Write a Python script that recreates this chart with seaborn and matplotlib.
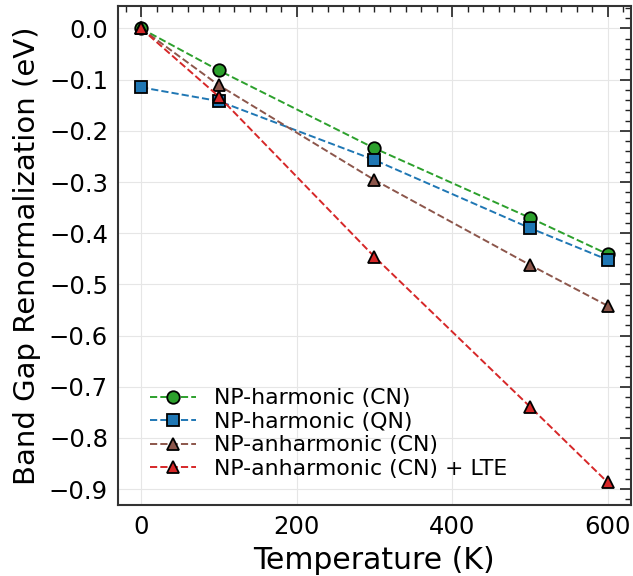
import matplotlib
matplotlib.use("Agg")
import matplotlib.pyplot as plt
from matplotlib.ticker import MultipleLocator
import seaborn as sns
import pandas as pd

temperature = [0, 100, 300, 500, 600]
np_harmonic_cn = [0.0, -0.082, -0.234, -0.370, -0.441]
np_harmonic_qn = [-0.115, -0.142, -0.257, -0.390, -0.452]
np_anharmonic_cn = [0.0, -0.111, -0.296, -0.462, -0.542]
np_anharmonic_cn_lte = [0.0, -0.133, -0.446, -0.739, -0.887]

series = [
    ("NP-harmonic (CN)", np_harmonic_cn, "#2ca02c", "o"),
    ("NP-harmonic (QN)", np_harmonic_qn, "#1f77b4", "s"),
    ("NP-anharmonic (CN)", np_anharmonic_cn, "#8c564b", "^"),
    ("NP-anharmonic (CN) + LTE", np_anharmonic_cn_lte, "#d62728", "^"),
]

sns.set_style("white")
plt.rcParams["font.family"] = ["DejaVu Sans"]
plt.rcParams["text.color"] = "black"
plt.rcParams["axes.labelcolor"] = "black"

fig = plt.figure(figsize=(6.33, 5.76), dpi=100)
ax = fig.add_axes([0.186, 0.123, 0.811, 0.867])

for label, values, color, marker in series:
    df = pd.DataFrame({"T": temperature, "E": values})
    sns.lineplot(data=df, x="T", y="E", ax=ax, color=color, marker=marker,
                 linestyle="--", linewidth=1.4, markersize=9,
                 markeredgecolor="black", markeredgewidth=1.3, label=label)

ax.set_xlabel("Temperature (K)", fontsize=21.5, labelpad=5)
ax.set_ylabel("Band Gap Renormalization (eV)", fontsize=21, labelpad=6)
ax.set_xticks([0, 200, 400, 600])
ax.set_yticks([0.0, -0.1, -0.2, -0.3, -0.4, -0.5, -0.6, -0.7, -0.8, -0.9])
ax.xaxis.set_minor_locator(MultipleLocator(20))
ax.yaxis.set_minor_locator(MultipleLocator(0.02))
ax.tick_params(which="both", direction="in", top=True, right=True,
               color="#222222", labelcolor="black")
ax.tick_params(which="major", length=8, width=1.2, labelsize=17.5, pad=7)
ax.tick_params(which="minor", length=4, width=1.0)
ax.grid(True, which="major", color="#e6e6e6", linewidth=0.8)
for s in ax.spines.values():
    s.set_color("#333333")
    s.set_linewidth(1.5)
ax.margins(x=0.05, y=0.05)

leg = ax.legend(loc="lower left", bbox_to_anchor=(0.012, 0.0), frameon=False,
                fontsize=15.8, handlelength=2.1, handletextpad=0.8,
                labelspacing=0.16, borderaxespad=0.8)

fig.savefig("out.png", dpi=100)
